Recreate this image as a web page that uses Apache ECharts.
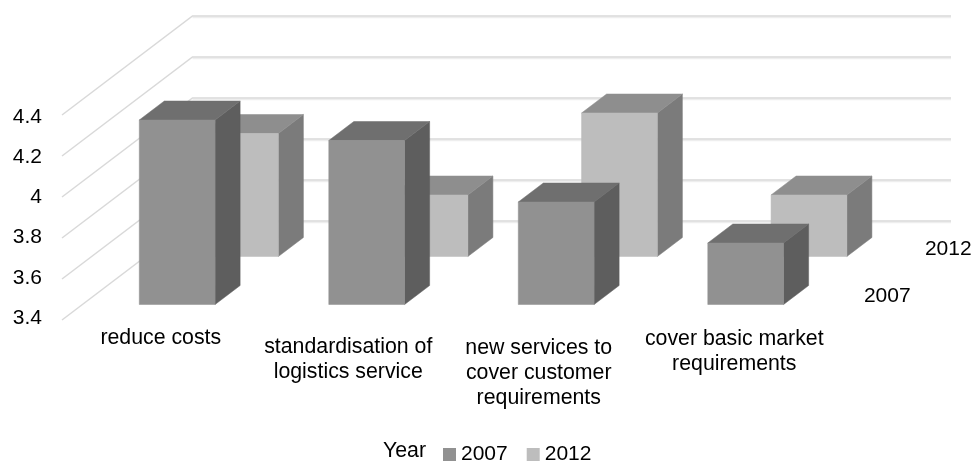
<!DOCTYPE html>
<html>
<head>
<meta charset="utf-8">
<style>html,body{margin:0;padding:0;background:#fff}#c{width:973px;height:462px}</style>
<script src="https://cdn.jsdelivr.net/npm/echarts@6/dist/echarts.min.js"></script>
</head>
<body>
<div id="c"></div>
<script>
const categories = ['reduce costs', 'standardisation of\nlogistics service', 'new services to\ncover customer\nrequirements', 'cover basic market\nrequirements'];
const years = ['2007', '2012'];
const values2007 = [4.3, 4.2, 3.9, 3.7];
const values2012 = [4.0, 3.7, 4.1, 3.7];
const ticks = [3.4, 3.6, 3.8, 4.0, 4.2, 4.4];

const FONT = '"Liberation Sans", Arial, sans-serif';
const FS = 21;
const FS_CAT = 21.3;
const WALL = { dx: 130.5, dy: 99, rightEnd: 951 };
const SLOPE = WALL.dx / WALL.dy;
const BOX = 19;
const ROW_2007 = 15.5, ROW_2012 = 63.5;
const BAR_FRACTION = 0.4;
const C2007 = { front: '#919191', side: '#5e5e5e', top: '#6f6f6f' };
const C2012 = { front: '#bdbdbd', side: '#7b7b7b', top: '#8e8e8e' };
const labelShift = [[4, 5.5], [2, 15], [3, 16], [9, 7]];

function barRender(row, col) {
  return function (params, api) {
    const cat = api.value(0), val = api.value(1);
    const base = api.coord([cat, ticks[0]]);
    const top = api.coord([cat, val]);
    const w = api.size([1, 0])[0] * BAR_FRACTION;
    const ox = row * SLOPE, oy = -row;
    const x0 = base[0] + ox - w / 2, x1 = x0 + w;
    const yb = base[1] + oy, yt = top[1] + oy;
    const dx = BOX * SLOPE, dy = -BOX;
    const poly = (pts, c) => ({ type: 'polygon', shape: { points: pts }, style: { fill: c, stroke: c, lineWidth: 0.5 } });
    return { type: 'group', children: [
      poly([[x1, yt], [x1 + dx, yt + dy], [x1 + dx, yb + dy], [x1, yb]], col.side),
      poly([[x0, yt], [x0 + dx, yt + dy], [x1 + dx, yt + dy], [x1, yt]], col.top),
      poly([[x0, yt], [x1, yt], [x1, yb], [x0, yb]], col.front)
    ] };
  };
}
function wallRender(params, api) {
  const cs = params.coordSys;
  const p = api.coord([0, api.value(0)]);
  const y = p[1], xa = cs.x, xb = xa + WALL.dx, yb = y - WALL.dy;
  return { type: 'group', children: [
    { type: 'polyline', shape: { points: [[xb, yb + 1.5], [WALL.rightEnd, yb + 1.5]] }, style: { fill: null, stroke: '#eeeeee', lineWidth: 1.5 } },
    { type: 'polyline', shape: { points: [[xa, y], [xb, yb], [WALL.rightEnd, yb]] }, style: { fill: null, stroke: '#d9d9d9', lineWidth: 1.5 } }
  ] };
}
function catLabelRender(params, api) {
  const i = api.value(0);
  const p = api.coord([i, ticks[0]]);
  return { type: 'text', style: {
    x: p[0] + labelShift[i][0], y: p[1] + labelShift[i][1], text: categories[i],
    font: FS_CAT + 'px ' + FONT, lineHeight: 25, fill: '#000', align: 'center', verticalAlign: 'top'
  } };
}
function depthLabelRender(params, api) {
  const i = api.value(0);
  const last = api.coord([categories.length - 1, ticks[0]]);
  const pos = i === 0 ? [162, -24] : [223, -71];
  return { type: 'text', style: {
    x: last[0] + pos[0], y: last[1] + pos[1], text: years[i],
    font: FS + 'px ' + FONT, fill: '#000', align: 'center', verticalAlign: 'middle'
  } };
}

const chart = echarts.init(document.getElementById('c'), null, { renderer: 'canvas' });
chart.setOption({
  animation: false,
  backgroundColor: '#fff',
  title: { text: 'Year', left: 378, top: 436, textStyle: { fontFamily: FONT, fontSize: FS_CAT, fontWeight: 'normal', color: '#000' } },
  legend: {
    data: years, left: 438, top: 439, itemWidth: 13, itemHeight: 13, itemGap: 19, icon: 'rect',
    textStyle: { fontFamily: FONT, fontSize: FS, color: '#000', padding: [2, 0, 0, 0] }
  },
  grid: [
    { left: 62, width: 758, top: 115, height: 205 },
    { left: 62, width: 758, top: 117, height: 201 }
  ],
  xAxis: [
    { type: 'category', data: categories, gridIndex: 0, axisLine: { show: false }, axisTick: { show: false }, axisLabel: { show: false } },
    { type: 'category', data: categories, gridIndex: 1, show: false }
  ],
  yAxis: [
    { type: 'value', gridIndex: 0, min: 3.4, max: 4.4, interval: 0.2, axisLine: { show: false }, axisTick: { show: false }, axisLabel: { show: false }, splitLine: { show: false } },
    { type: 'value', gridIndex: 1, min: 3.4, max: 4.4, interval: 0.2, axisLine: { show: false }, axisTick: { show: false }, splitLine: { show: false },
      axisLabel: { margin: 20, fontFamily: FONT, fontSize: FS, color: '#000' } }
  ],
  series: [
    { type: 'custom', name: 'walls', silent: true, z: 1, renderItem: wallRender, data: ticks.map(t => [t]), encode: { y: 0 }, clip: false },
    { type: 'custom', name: '2012', z: 2, renderItem: barRender(ROW_2012, C2012), itemStyle: { color: C2012.front }, data: values2012.map((v, i) => [i, v]), encode: { x: 0, y: 1 }, clip: false },
    { type: 'custom', name: '2007', z: 3, renderItem: barRender(ROW_2007, C2007), itemStyle: { color: C2007.front }, data: values2007.map((v, i) => [i, v]), encode: { x: 0, y: 1 }, clip: false },
    { type: 'custom', name: 'catLabels', silent: true, z: 4, renderItem: catLabelRender, data: categories.map((c, i) => [i]), encode: { x: 0 }, clip: false },
    { type: 'custom', name: 'depthLabels', silent: true, z: 4, renderItem: depthLabelRender, data: years.map((y, i) => [i]), encode: { x: 0 }, clip: false }
  ]
});
</script>
</body>
</html>
